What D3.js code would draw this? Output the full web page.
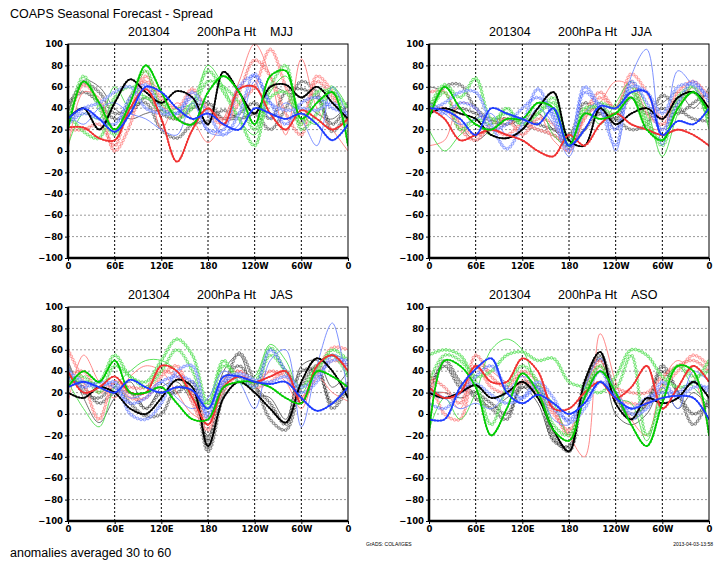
<!DOCTYPE html>
<html>
<head>
<meta charset="utf-8">
<script src="https://cdn.jsdelivr.net/npm/d3@7"></script>
<style>
  body { margin: 0; background: #fff; }
  svg { display: block; }
  text { font-family: "Liberation Sans", Arial, sans-serif; fill: #000; }
</style>
</head>
<body>
<svg id="chart" width="725" height="568"></svg>
<script>
// longitudes of the sampled points (0 -> 360, eastward)
const LON = [0, 20, 40, 60, 80, 100, 120, 140, 160, 180, 200, 220, 240, 260, 280, 300, 320, 340, 360];
const X_TICKS = [0, 60, 120, 180, 240, 300, 360];
const X_LABELS = ["0", "60E", "120E", "180", "120W", "60W", "0"];
const Y_TICKS = [-100, -80, -60, -40, -20, 0, 20, 40, 60, 80, 100];
const SEASONS = ["MJJ", "JJA", "JAS", "ASO"];

// each colour: [thick member, thin member, circle-marked member, second circle-marked member]
const MJJ_BLACK = [
  [30, 40, 20, 45, 67, 55, 45, 56, 50, 25, 74, 55, 35, 60, 62, 50, 60, 45, 30],
  [35, 66, 60, 40, 30, 35, 38, 30, 25, 40, 30, 30, 35, 60, 55, 50, 35, 30, 45],
  [40, 63, 55, 35, 40, 45, 20, 12, 25, 28, 38, 30, 35, 20, 40, 65, 55, 18, 38],
  [45, 55, 45, 30, 35, 50, 35, 30, 40, 45, 30, 35, 45, 30, 55, 58, 50, 25, 45],
];
const MJJ_RED = [
  [22, 22, 12, 10, 40, 58, 30, -10, 20, 40, 25, 58, 60, 35, 20, 38, 30, 20, 30],
  [0, 55, 50, 20, 40, 75, 20, 45, 30, 8, 30, 65, 100, 70, 15, 86, 40, 20, 0],
  [25, 62, 45, 0, 25, 70, 50, 40, 58, 35, 25, 45, 60, 95, 60, 25, 70, 55, 25],
  [20, 20, 25, 5, 50, 65, 45, 30, 55, 40, 30, 55, 85, 70, 35, 15, 65, 50, 30],
];
const MJJ_GREEN = [
  [20, 65, 45, 20, 45, 80, 55, 30, 25, 55, 70, 55, 25, 70, 75, 30, 45, 55, 5],
  [5, 35, 30, 60, 40, 50, 35, 40, 45, 80, 60, 30, 15, 55, 70, 35, 25, 60, 40],
  [35, 18, 12, 50, 60, 50, 45, 35, 45, 75, 55, 30, 5, 50, 55, 25, 55, 55, 40],
  [25, 70, 40, 15, 50, 75, 40, 30, 40, 65, 60, 45, 20, 60, 80, 20, 35, 60, 15],
];
const MJJ_BLUE = [
  [30, 40, 30, 18, 35, 60, 55, 40, 30, 35, 25, 20, 40, 35, 30, 35, 25, 10, 25],
  [35, 25, 40, 45, 35, 30, 20, 15, 45, 18, 15, 25, 65, 30, 45, 30, 5, 60, 30],
  [28, 40, 45, 55, 60, 40, 35, 35, 55, 35, 15, 35, 72, 45, 38, 40, 38, 45, 30],
  [25, 35, 30, 25, 50, 62, 40, 35, 50, 20, 20, 60, 70, 45, 25, 45, 50, 40, 35],
];

const JJA_BLACK = [
  [35, 40, 35, 30, 15, 12, 20, 40, 55, 10, 5, 40, 25, 35, 40, 30, 50, 55, 40],
  [60, 55, 25, 10, 20, 30, 20, 35, 20, 10, 30, 45, 20, 55, 40, 45, 55, 40, 60],
  [35, 60, 62, 40, 30, 30, 25, 20, 15, 5, 20, 35, 30, 20, 25, 52, 40, 30, 28],
  [45, 38, 40, 35, 28, 25, 30, 25, 20, 15, 45, 35, 30, 50, 35, 40, 35, 45, 55],
];
const JJA_RED = [
  [40, 30, 10, 15, 20, 15, 10, 0, -5, 15, 5, 25, 35, 25, 20, 15, 20, 15, 5],
  [5, 10, 45, 40, 20, 25, 30, 35, 10, 0, 30, 45, 65, 60, 25, 20, 55, 65, 35],
  [55, 55, 25, 15, 20, 15, 25, 20, 15, 5, 30, 50, 40, 72, 55, 30, 55, 65, 50],
  [35, 40, 20, 10, 25, 30, 15, 30, 25, 0, 35, 55, 40, 65, 35, 25, 45, 60, 30],
];
const JJA_GREEN = [
  [30, 60, 40, 25, 20, 30, 30, 45, 40, 5, 35, 30, 35, 50, 20, 10, 40, 55, 35],
  [20, 0, 15, 25, 15, 40, 25, 45, 15, 5, 40, 25, 45, 65, 40, -5, 35, 60, 20],
  [40, 62, 50, 68, 30, 35, 25, 35, 45, 5, 40, 40, 35, 55, 25, 10, 50, 60, 25],
  [35, 55, 20, 30, 25, 40, 25, 35, 50, 10, 35, 45, 40, 60, 30, 5, 45, 55, 30],
];
const JJA_BLUE = [
  [40, 38, 30, 15, 40, 35, 30, 25, 40, 5, 20, 42, 40, 55, 55, 15, 28, 25, 40],
  [45, 35, 25, 30, 35, 15, 20, 40, 25, -5, 35, 45, 0, 70, 95, 5, 75, 60, 40],
  [38, 45, 55, 55, 25, 2, 25, 58, 30, 5, 60, 40, 5, 60, 55, 35, 60, 62, 50],
  [40, 35, 45, 40, 20, 25, 40, 50, 35, 0, 55, 40, 20, 65, 45, 20, 45, 65, 45],
];

const JAS_BLACK = [
  [20, 15, 25, 20, 5, 0, 15, 32, 25, -30, 15, 30, 20, 5, -8, 30, 52, 40, 15],
  [50, 15, -8, 15, 30, 5, 25, 30, 10, -20, 40, 55, 20, 15, -5, 45, 50, 25, 40],
  [45, 20, 15, 25, 10, -2, 0, 25, 20, -35, 20, 57, 30, -5, -15, 25, 45, 5, 25],
  [35, 25, 10, 20, 20, 5, 20, 20, 30, -25, 30, 45, 25, 10, -10, 40, 40, 10, 30],
];
const JAS_RED = [
  [40, 20, 25, 35, 20, 20, 45, 40, 15, -10, 25, 35, 30, 35, 40, 10, 45, 55, 40],
  [10, 55, 30, 15, 35, 45, 40, 20, 0, -5, 20, 35, 25, 40, 30, 5, 35, 20, 12],
  [60, 30, -5, 30, 15, 15, 35, 45, 10, -15, 30, 40, 25, 30, 40, 15, 40, 62, 60],
  [35, 40, 20, 30, 25, 25, 40, 35, 20, -5, 30, 40, 30, 40, 35, 15, 35, 50, 45],
];
const JAS_GREEN = [
  [25, 40, 30, 50, 20, 20, 25, 10, -5, -5, 25, 30, 30, 25, 15, 10, 40, 35, 25],
  [30, 5, -12, 25, 40, 50, 50, 40, 15, 10, 25, 30, 35, 65, 50, 20, 45, 55, 50],
  [35, 30, 30, 55, 35, 30, 50, 70, 55, 10, 50, 30, 30, 62, 40, 25, 40, 60, 50],
  [30, 35, 20, 45, 35, 25, 40, 60, 40, 5, 45, 35, 25, 55, 40, 25, 45, 55, 35],
];
const JAS_BLUE = [
  [25, 30, 25, 20, 32, 25, 20, 25, 22, 5, 35, 35, 30, 28, 30, 15, 3, 10, 25],
  [45, 20, 25, 30, 15, 20, 30, 15, 5, 15, 40, 30, 5, 50, 60, -12, 45, 85, 15],
  [40, 30, 25, 30, 0, -5, 10, 40, 45, -5, 30, 38, 32, 30, 35, 25, 35, 50, 50],
  [35, 25, 30, 25, 10, 15, 30, 35, 30, 0, 30, 35, 25, 60, 40, 20, 30, 55, 45],
];

const ASO_BLACK = [
  [20, 15, 20, 27, 15, 20, 30, 15, -15, -35, 30, 58, 10, -5, 15, 10, 15, 30, 15],
  [20, 20, 15, 20, 5, 15, 25, 10, -25, -30, 30, 50, 0, -10, 0, 25, 5, 20, 5],
  [15, 50, 30, 15, 5, -5, 30, 25, -20, -35, 25, 55, 20, -5, 10, 45, 20, -10, 15],
  [25, 45, 25, 20, 10, 0, 25, 20, -25, -30, 30, 52, 15, 0, 10, 40, 20, 0, 10],
];
const ASO_RED = [
  [25, 15, 20, 45, 30, 30, 52, 40, 5, 5, 20, 30, 15, 25, 45, 5, 25, 45, 30],
  [15, 20, 5, 45, 40, 30, 35, 15, 5, -20, -40, 75, 30, -5, -20, 30, 50, 35, -18],
  [40, 0, -5, 45, 25, 20, 30, 20, 0, -15, 15, 45, 15, 10, 10, 25, 40, 55, 45],
  [35, 25, 10, 55, 35, 25, 40, 30, 5, -20, 20, 50, 25, 20, 20, 35, 45, 50, 40],
];
const ASO_GREEN = [
  [-18, 50, 45, 25, -20, 5, 38, 20, -15, -25, 15, 40, 20, -10, -30, 10, 45, 40, -20],
  [-15, 15, -5, 20, 60, 70, 60, 25, 10, -20, 20, 45, 15, 10, -25, 25, 45, 25, 10],
  [55, 60, 55, 35, 40, 55, 58, 50, 52, 30, 25, 20, 35, 60, 55, 35, 25, 30, 50],
  [30, 55, 50, 30, -10, 25, 45, 30, -10, -20, 20, 45, 25, 55, -20, 15, 45, 35, 40],
];
const ASO_BLUE = [
  [-5, -5, 25, 42, 52, 20, 10, 18, 10, 0, 10, 30, 15, 5, 10, 15, 17, 15, -5],
  [25, 15, 5, 10, 5, 20, 35, 25, -5, -10, 25, 52, 20, -5, 5, 25, 5, 40, 30],
  [20, 15, 20, 28, 18, 10, 15, 30, 15, -8, 5, 30, 20, 0, 5, 30, 15, 25, 25],
  [10, 5, 20, 35, 45, 25, 15, 25, 5, -5, 15, 40, 15, 5, 15, 20, 20, 30, 20],
];

const PANEL_DATA = [
  [MJJ_BLACK, MJJ_RED, MJJ_GREEN, MJJ_BLUE],
  [JJA_BLACK, JJA_RED, JJA_GREEN, JJA_BLUE],
  [JAS_BLACK, JAS_RED, JAS_GREEN, JAS_BLUE],
  [ASO_BLACK, ASO_RED, ASO_GREEN, ASO_BLUE],
];

// grads-ish colours: [dark, light]
const COLORS = [
  ["#000000", "#606060"],
  ["#f03232", "#ff7d7d"],
  ["#00cc00", "#4ade4a"],
  ["#1e3cff", "#6f86ff"],
];

const W = 280;
const H = 214;
const ORIGINS = [[68, 44], [429, 44], [68, 307], [429, 307]];

const svg = d3.select("#chart");

svg.append("text")
  .attr("x", 10).attr("y", 18)
  .style("font-size", "12.5px")
  .text("COAPS Seasonal Forecast - Spread");

svg.append("text")
  .attr("x", 10).attr("y", 557)
  .style("font-size", "12.5px")
  .text("anomalies averaged 30 to 60");

svg.append("text")
  .attr("x", 366).attr("y", 546)
  .style("font-size", "5px")
  .text("GrADS: COLA/IGES");

svg.append("text")
  .attr("x", 713).attr("y", 546)
  .attr("text-anchor", "end")
  .style("font-size", "5px")
  .text("2013-04-03-13:58");

const x = d3.scaleLinear().domain([0, 360]).range([0, W]);
const y = d3.scaleLinear().domain([-100, 100]).range([H, 0]);

const line = d3.line()
  .x((d, i) => x(LON[i]))
  .y((d) => y(d))
  .curve(d3.curveCatmullRom.alpha(0.5));

// drop little marks along a drawn path
const markAlong = (g, node, step, fn) => {
  const len = node.getTotalLength();
  for (let s = 0; s <= len; s += step) {
    const p = node.getPointAtLength(s);
    fn(g, p);
  }
};

ORIGINS.forEach(([ox, oy], pi) => {
  const panel = svg.append("g").attr("transform", `translate(${ox},${oy})`);

  // title row
  panel.append("text").attr("x", 60).attr("y", -8).style("font-size", "12.5px").text("201304");
  panel.append("text").attr("x", 129).attr("y", -8).style("font-size", "12.5px").text("200hPa  Ht");
  panel.append("text").attr("x", 202).attr("y", -8).style("font-size", "12.5px").text(SEASONS[pi]);

  // grid
  panel.append("g")
    .selectAll("line")
    .data(Y_TICKS.filter((d) => d > -100 && d < 100))
    .enter()
    .append("line")
    .attr("x1", 0).attr("x2", W)
    .attr("y1", (d) => y(d)).attr("y2", (d) => y(d))
    .attr("stroke", "#9a9a9a")
    .attr("stroke-width", 1)
    .attr("stroke-dasharray", "2,2");

  panel.append("g")
    .selectAll("line")
    .data(X_TICKS.filter((d) => d > 0 && d < 360))
    .enter()
    .append("line")
    .attr("x1", (d) => x(d)).attr("x2", (d) => x(d))
    .attr("y1", 0).attr("y2", H)
    .attr("stroke", "#000")
    .attr("stroke-width", 1)
    .attr("stroke-dasharray", "2,2");

  const clipId = "clip" + pi;
  panel.append("clipPath").attr("id", clipId)
    .append("rect").attr("width", W).attr("height", H);

  const plot = panel.append("g").attr("clip-path", `url(#${clipId})`);

  PANEL_DATA[pi].forEach((members, ci) => {
    const [dark, light] = COLORS[ci];

    // thin member
    plot.append("path")
      .attr("d", line(members[1]))
      .attr("fill", "none")
      .attr("stroke", light)
      .attr("stroke-width", 0.9);

    // circle-marked members
    [members[2], members[3]].forEach((vals, k) => {
      const col = k === 0 ? light : dark;
      const op = k === 0 ? 1 : 0.6;
      const p = plot.append("path")
        .attr("d", line(vals))
        .attr("fill", "none")
        .attr("stroke", col)
        .attr("stroke-opacity", op)
        .attr("stroke-width", 0.8);
      markAlong(plot, p.node(), 3.6, (g, pt) => {
        g.append("circle")
          .attr("cx", pt.x).attr("cy", pt.y).attr("r", 1.35)
          .attr("fill", "#fff")
          .attr("fill-opacity", 0.6)
          .attr("stroke", col)
          .attr("stroke-opacity", op)
          .attr("stroke-width", 0.75);
      });
    });
  });

  PANEL_DATA[pi].forEach((members, ci) => {
    const [dark] = COLORS[ci];
    const thick = plot.append("path")
      .attr("d", line(members[0]))
      .attr("fill", "none")
      .attr("stroke", dark)
      .attr("stroke-width", 1.6);
    markAlong(plot, thick.node(), 3, (g, pt) => {
      g.append("rect")
        .attr("x", pt.x - 0.9).attr("y", pt.y - 0.9)
        .attr("width", 1.8).attr("height", 1.8)
        .attr("fill", dark);
    });
  });

  // axes
  const yAxis = d3.axisLeft(y).tickValues(Y_TICKS).tickSize(3).tickPadding(2);
  const xAxis = d3.axisBottom(x).tickValues(X_TICKS)
    .tickFormat((d, i) => X_LABELS[i]).tickSize(3).tickPadding(2);

  const ya = panel.append("g").call(yAxis);
  const xa = panel.append("g").attr("transform", `translate(0,${H})`).call(xAxis);
  [ya, xa].forEach((a) => {
    a.select(".domain").remove();
    a.selectAll("text")
      .style("font-family", "'DejaVu Sans', sans-serif")
      .style("font-size", "8.5px")
      .style("font-weight", "bold");
  });

  // frame: heavy left and bottom, light top and right
  panel.append("rect")
    .attr("width", W).attr("height", H)
    .attr("fill", "none").attr("stroke", "#000").attr("stroke-width", 1);
  panel.append("line").attr("x1", 0).attr("x2", 0).attr("y1", 0).attr("y2", H)
    .attr("stroke", "#000").attr("stroke-width", 2.5);
  panel.append("line").attr("x1", 0).attr("x2", W).attr("y1", H).attr("y2", H)
    .attr("stroke", "#000").attr("stroke-width", 2.5);
});
</script>
</body>
</html>
